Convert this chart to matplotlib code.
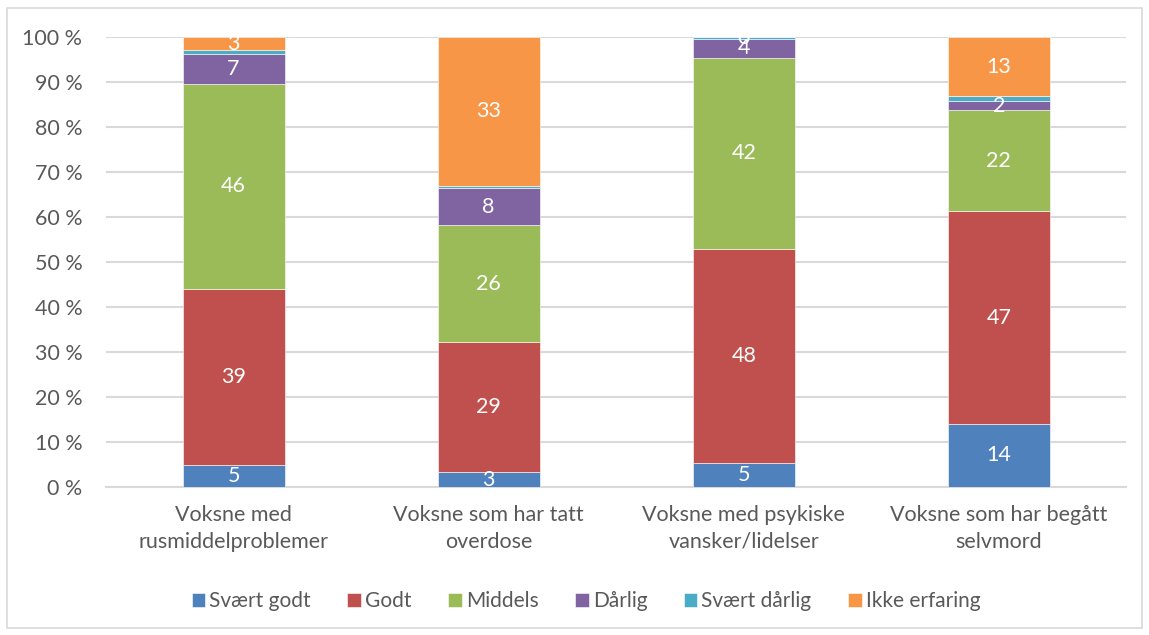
import matplotlib.pyplot as plt
import numpy as np
from matplotlib.patches import Rectangle

plt.rcParams['font.family'] = ['Lato', 'DejaVu Sans']

categories = ['Voksne med\nrusmiddelproblemer', 'Voksne som har tatt\noverdose',
              'Voksne med psykiske\nvansker/lidelser', 'Voksne som har begått\nselvmord']
series = ['Svært godt', 'Godt', 'Middels', 'Dårlig', 'Svært dårlig', 'Ikke erfaring']
svaert_godt = [4.9, 3.3, 5.2, 14.0]
godt = [39.2, 28.9, 47.5, 47.3]
middels = [45.5, 26.0, 42.2, 22.4]
daarlig = [6.6, 8.2, 4.2, 2.0]
svaert_daarlig = [0.8, 0.5, 0.45, 1.1]
ikke_erfaring = [3.0, 33.1, 0.0, 13.2]
# which segments carry a value label
show_label = [[True] * 4, [True] * 4, [True] * 4, [True] * 4,
              [False, False, True, False], [True, True, False, True]]
colors = ['#4F81BD', '#C0504D', '#9BBB59', '#8064A2', '#4BACC6', '#F79646']

data = np.array([svaert_godt, godt, middels, daarlig, svaert_daarlig, ikke_erfaring])
pct = data / data.sum(axis=0) * 100

fig = plt.figure(figsize=(11.49, 6.35), dpi=100)
ax = fig.add_axes([0.0923, 0.2331, 0.888, 0.7087])
fig.patches.append(Rectangle((7 / 1149, 7 / 635), 1135 / 1149, 620 / 635,
                             transform=fig.transFigure, fill=False,
                             edgecolor='#D9D9D9', linewidth=1.2))

x = np.arange(len(categories))
bottom = np.zeros(len(categories))
for i, name in enumerate(series):
    ax.bar(x, pct[i], 0.4, bottom=bottom, color=colors[i], label=name,
           edgecolor='white', linewidth=0.4, zorder=3)
    for j in range(len(categories)):
        if show_label[i][j]:
            ax.text(x[j], bottom[j] + pct[i][j] / 2, f'{data[i][j]:.0f}',
                    ha='center', va='center', color='white', fontsize=15.5, zorder=4)
    bottom += pct[i]

ax.set_xlim(-0.5, 3.5)
ax.set_ylim(0, 100)
ax.set_yticks(range(0, 101, 10))
ax.set_yticklabels([f'{v} %' for v in range(0, 101, 10)])
ax.set_xticks(x)
ax.set_xticklabels(categories, linespacing=1.42)
ax.tick_params(axis='y', length=0, pad=17, labelsize=15.5, labelcolor='#595959')
ax.tick_params(axis='x', length=0, pad=13, labelsize=15.5, labelcolor='#595959')
ax.grid(axis='y', color='#D9D9D9', linewidth=1.5, zorder=0)
for s in ['top', 'right', 'left']:
    ax.spines[s].set_visible(False)
ax.spines['bottom'].set_color('#D9D9D9')
ax.spines['bottom'].set_linewidth(1.5)

fig.legend(loc='center', bbox_to_anchor=(586 / 1149, 1 - 601 / 635), ncol=6,
           frameon=False, fontsize=15, labelcolor='#595959', handlelength=0.65,
           handleheight=0.65, handletextpad=0.2, columnspacing=1.75)

fig.savefig('out.png', dpi=100)
